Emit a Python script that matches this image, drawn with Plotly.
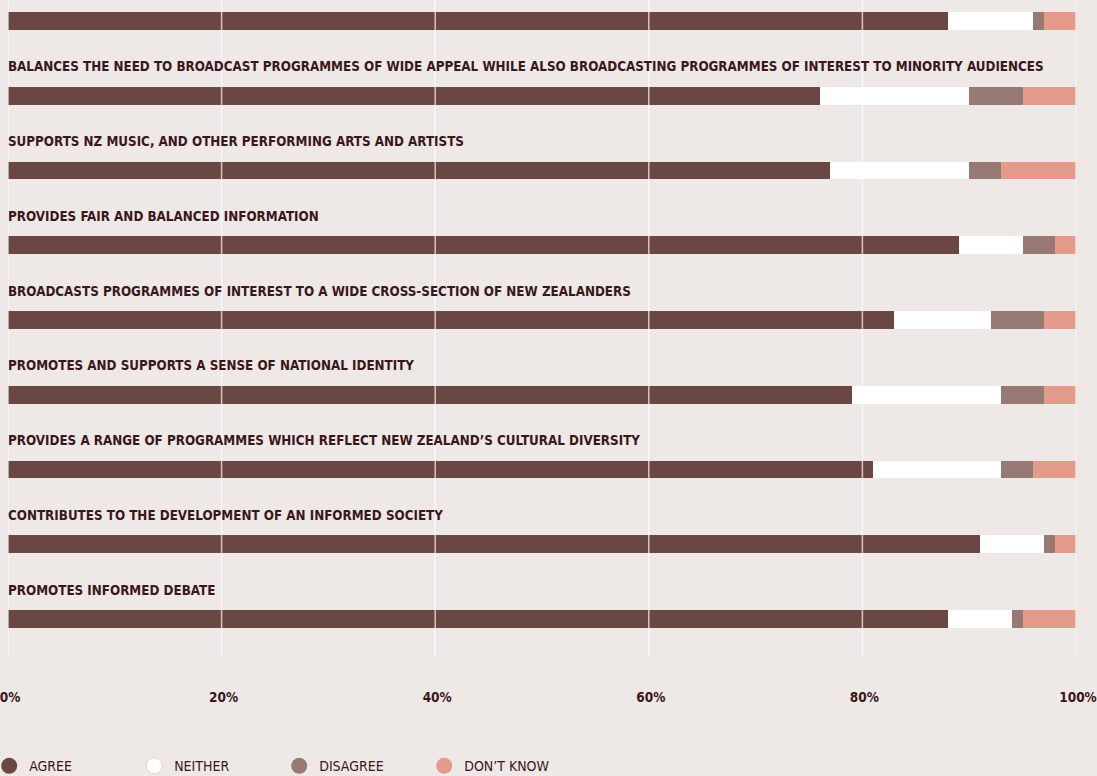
import plotly.graph_objects as go

# Categories listed top to bottom (top one's label is cropped out of view)
categories = [
    "",
    "BALANCES THE NEED TO BROADCAST PROGRAMMES OF WIDE APPEAL WHILE ALSO BROADCASTING PROGRAMMES OF INTEREST TO MINORITY AUDIENCES",
    "SUPPORTS NZ MUSIC, AND OTHER PERFORMING ARTS AND ARTISTS",
    "PROVIDES FAIR AND BALANCED INFORMATION",
    "BROADCASTS PROGRAMMES OF INTEREST TO A WIDE CROSS-SECTION OF NEW ZEALANDERS",
    "PROMOTES AND SUPPORTS A SENSE OF NATIONAL IDENTITY",
    "PROVIDES A RANGE OF PROGRAMMES WHICH REFLECT NEW ZEALAND\u2019S CULTURAL DIVERSITY",
    "CONTRIBUTES TO THE DEVELOPMENT OF AN INFORMED SOCIETY",
    "PROMOTES INFORMED DEBATE",
]
agree = [88, 76, 77, 89, 83, 79, 81, 91, 88]
neither = [8, 14, 13, 6, 9, 14, 12, 6, 6]
disagree = [1, 5, 3, 3, 5, 4, 3, 1, 1]
dont_know = [3, 5, 7, 2, 3, 3, 4, 2, 5]

series_names = ["AGREE", "NEITHER", "DISAGREE", "DON\u2019T KNOW"]
series_vals = [agree, neither, disagree, dont_know]
colors = ["#6a4742", "#ffffff", "#967a73", "#e59b8c"]

tick_vals = [0, 20, 40, 60, 80, 100]
tick_text = ["0%", "20%", "40%", "60%", "80%", "100%"]

TEXT = "#3a171a"
BG = "#eee8e7"
FONT = "DejaVu Sans Condensed, sans-serif"

n = len(categories)
ypos = [n - 1 - i for i in range(n)]  # top row highest

fig = go.Figure()
for name, vals, col in zip(series_names, series_vals, colors):
    fig.add_trace(go.Bar(
        y=ypos, x=vals, orientation="h", name=name,
        marker=dict(color=col, line=dict(width=0)),
        width=0.24, showlegend=False, hoverinfo="x+name",
    ))
    fig.add_trace(go.Scatter(
        x=[None], y=[None], mode="markers", name=name,
        marker=dict(symbol="circle", size=18, color=col,
                    line=dict(color="#e0d3d0", width=1 if col == "#ffffff" else 0)),
        showlegend=True,
    ))

# category labels above each bar
for yp, lab in zip(ypos, categories):
    if lab:
        fig.add_annotation(x=0, y=yp, xref="x", yref="y", text="<b>" + lab + "</b>",
                           showarrow=False, xanchor="left", yanchor="middle", yshift=29,
                           xshift=-2,
                           font=dict(family=FONT, size=13.3, color=TEXT))

# gridlines drawn above bars
for tv in tick_vals:
    fig.add_shape(type="line", xref="x", yref="paper", x0=tv, x1=tv, y0=0, y1=1,
                  line=dict(color="rgba(255,255,255,0.7)", width=1.5), layer="above")

fig.update_layout(
    width=1097, height=776,
    margin=dict(l=8, r=21, t=0, b=120, autoexpand=False),
    paper_bgcolor=BG, plot_bgcolor=BG,
    barmode="stack", bargap=0,
    font=dict(family=FONT, color=TEXT, size=14),
    xaxis=dict(range=[0, 100], tickvals=tick_vals, ticktext=["<b>%s</b>" % t for t in tick_text],
               showgrid=False, zeroline=False, showline=False, ticks="",
               ticklabelstandoff=31, ticklabeloverflow="allow", ticklabelshift=2,
               tickfont=dict(size=13.5, color=TEXT, family=FONT),
               automargin=False, fixedrange=True),
    yaxis=dict(range=[-0.495, n - 1 + 0.281], showticklabels=False, showgrid=False,
               zeroline=False, showline=False, automargin=False, fixedrange=True),
    legend=dict(orientation="h", x=-0.0176, xanchor="left", y=-0.168, yanchor="middle",
                entrywidth=100, entrywidthmode="pixels", itemsizing="trace",
                font=dict(size=14, color=TEXT, family=FONT), bgcolor="rgba(0,0,0,0)",
                traceorder="normal"),
)

fig.write_html("out.html")
